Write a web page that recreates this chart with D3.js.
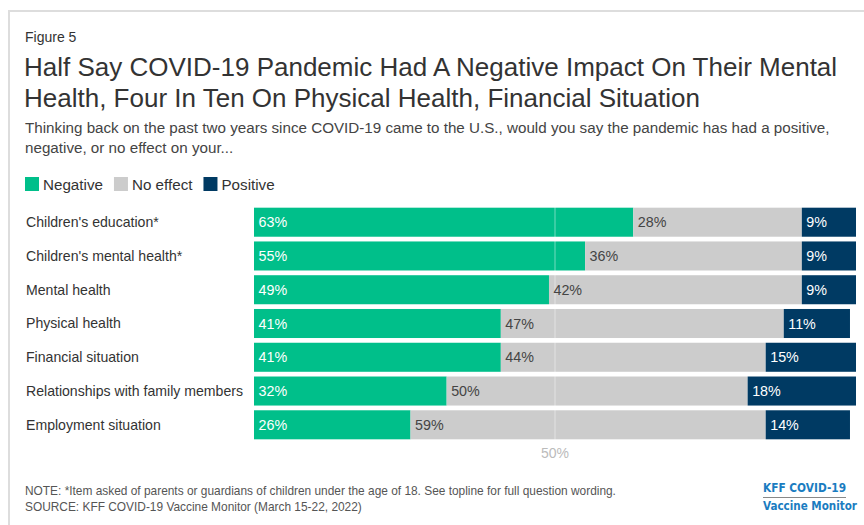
<!DOCTYPE html>
<html>
<head>
<meta charset="utf-8">
<script src="https://cdn.jsdelivr.net/npm/d3@7"></script>
<style>
  body { margin: 0; background: #fff; }
  svg { display: block; font-family: "Liberation Sans", Arial, sans-serif; }
</style>
</head>
<body>
<script>
// Chart data
const categories = [
  "Children's education*",
  "Children's mental health*",
  "Mental health",
  "Physical health",
  "Financial situation",
  "Relationships with family members",
  "Employment situation"
];
const negative = [63, 55, 49, 41, 41, 32, 26];
const noEffect = [28, 36, 42, 47, 44, 50, 59];
const positive = [9, 9, 9, 11, 15, 18, 14];
const seriesNames = ["Negative", "No effect", "Positive"];
const seriesColors = ["#00bf8a", "#cccccc", "#003a63"];
const labelColors = ["#ffffff", "#444444", "#ffffff"];
const gridTicks = [50];

const width = 864, height = 525;

const svg = d3.select("body")
  .append("svg")
  .attr("width", width)
  .attr("height", height);

// card border
svg.append("path")
  .attr("d", `M9,${height} V11 H${width}`)
  .attr("fill", "none")
  .attr("stroke", "#dddddd")
  .attr("stroke-width", 2);

// header
svg.append("text")
  .attr("x", 25).attr("y", 42)
  .attr("font-size", 14).attr("fill", "#333")
  .text("Figure 5");

const titleLines = [
  "Half Say COVID-19 Pandemic Had A Negative Impact On Their Mental",
  "Health, Four In Ten On Physical Health, Financial Situation"
];
svg.append("g").selectAll("text")
  .data(titleLines)
  .enter().append("text")
  .attr("x", 24)
  .attr("y", (d, i) => 76 + i * 31)
  .attr("font-size", 26)
  .attr("fill", "#333")
  .text(d => d);

const subLines = [
  "Thinking back on the past two years since COVID-19 came to the U.S., would you say the pandemic has had a positive,",
  "negative, or no effect on your..."
];
svg.append("g").selectAll("text")
  .data(subLines)
  .enter().append("text")
  .attr("x", 25)
  .attr("y", (d, i) => 133 + i * 20)
  .attr("font-size", 15.2)
  .attr("fill", "#444")
  .text(d => d);

// legend
const legend = svg.append("g").attr("transform", "translate(25,177)");
let lx = 0;
seriesNames.forEach((name, i) => {
  const g = legend.append("g").attr("transform", `translate(${lx},0)`);
  g.append("rect").attr("width", 14).attr("height", 14).attr("fill", seriesColors[i]);
  const t = g.append("text")
    .attr("x", 18).attr("y", 12.5)
    .attr("font-size", 15.2).attr("fill", "#333")
    .text(name);
  lx += 18 + t.node().getComputedTextLength() + 11;
});

// scales
const x = d3.scaleLinear().domain([0, 100]).range([254, 856]);
const y = d3.scaleBand().domain(categories).range([206, 441]).paddingInner(0.14).paddingOuter(0.05);

const rows = categories.map((c, i) => {
  const vals = [negative[i], noEffect[i], positive[i]];
  let acc = 0;
  return vals.map((v, k) => {
    const seg = { cat: c, k: k, v: v, x0: acc, x1: acc + v };
    acc += v;
    return seg;
  });
});
const segs = rows.flat();

// category labels
svg.append("g").selectAll("text")
  .data(categories)
  .enter().append("text")
  .attr("x", 26)
  .attr("y", d => y(d) + y.bandwidth() / 2)
  .attr("dy", "0.35em")
  .attr("font-size", 14.1)
  .attr("fill", "#333")
  .text(d => d);

// bars
svg.append("g").selectAll("rect")
  .data(segs)
  .enter().append("rect")
  .attr("x", d => x(d.x0))
  .attr("y", d => y(d.cat))
  .attr("width", d => x(d.x1) - x(d.x0))
  .attr("height", y.bandwidth())
  .attr("fill", d => seriesColors[d.k]);

// gridline over bars
svg.append("g").selectAll("line")
  .data(gridTicks)
  .enter().append("line")
  .attr("x1", d => x(d)).attr("x2", d => x(d))
  .attr("y1", y.range()[0]).attr("y2", y.range()[1])
  .attr("stroke", "#ffffff")
  .attr("stroke-opacity", 0.45)
  .attr("stroke-width", 1);

svg.append("g").selectAll("text")
  .data(gridTicks)
  .enter().append("text")
  .attr("x", d => x(d))
  .attr("y", 458)
  .attr("text-anchor", "middle")
  .attr("font-size", 14)
  .attr("fill", "#bbbbbb")
  .text(d => d + "%");

// value labels
svg.append("g").selectAll("text")
  .data(segs)
  .enter().append("text")
  .attr("x", d => x(d.x0) + 4.5)
  .attr("y", d => y(d.cat) + y.bandwidth() / 2)
  .attr("dy", "0.35em")
  .attr("font-size", 14.3)
  .attr("fill", d => labelColors[d.k])
  .text(d => d.v + "%");

// footer
const notes = [
  "NOTE: *Item asked of parents or guardians of children under the age of 18. See topline for full question wording.",
  "SOURCE: KFF COVID-19 Vaccine Monitor (March 15-22, 2022)"
];
svg.append("g").selectAll("text")
  .data(notes)
  .enter().append("text")
  .attr("x", 25)
  .attr("y", (d, i) => 495 + i * 16)
  .attr("font-size", 11.9)
  .attr("fill", "#555")
  .text(d => d);

// logo
const logo = svg.append("g").attr("font-family", "'DejaVu Sans Condensed', 'Liberation Sans Narrow', sans-serif")
  .attr("font-weight", "bold").attr("fill", "#1a7cc1");
logo.append("text").attr("x", 763).attr("y", 492).attr("font-size", 12)
  .attr("textLength", 83).attr("lengthAdjust", "spacingAndGlyphs").text("KFF COVID-19");
logo.append("line").attr("x1", 763).attr("x2", 846).attr("y1", 497.5).attr("y2", 497.5)
  .attr("stroke", "#888").attr("stroke-width", 1);
logo.append("text").attr("x", 763).attr("y", 510).attr("font-size", 12)
  .attr("textLength", 94).attr("lengthAdjust", "spacingAndGlyphs").text("Vaccine Monitor");
</script>
</body>
</html>
